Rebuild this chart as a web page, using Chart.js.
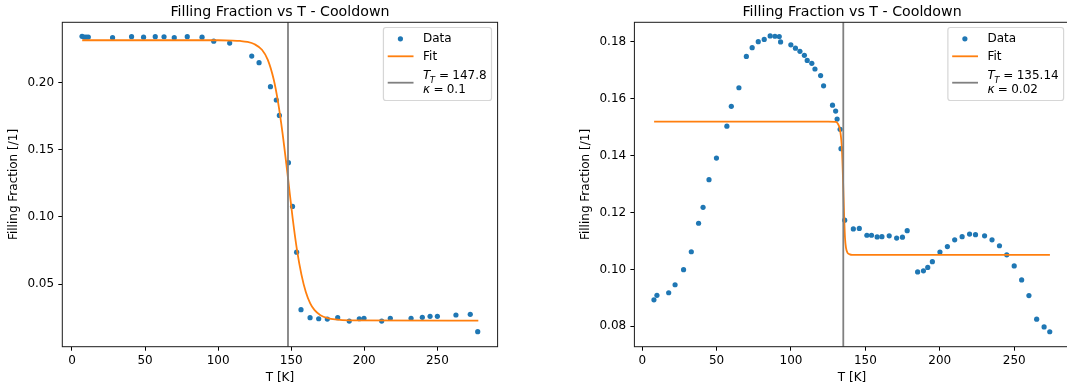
<!DOCTYPE html>
<html>
<head>
<meta charset="utf-8">
<script src="https://cdn.jsdelivr.net/npm/chart.js@4.4.0/dist/chart.umd.min.js"></script>
<style>
  html, body { margin:0; padding:0; background:#fff; overflow:hidden; width:1067px; height:392px; }
  .box { position:absolute; top:0; height:392px; width:540px; }
  #b1 { left:0; }
  #b2 { left:540px; }
  canvas { display:block; }
</style>
</head>
<body>
<div class="box" id="b1"><canvas id="c1" width="540" height="392"></canvas></div>
<div class="box" id="b2"><canvas id="c2" width="540" height="392"></canvas></div>
<script>
const FONT = 'DejaVu Sans';
const titleText = 'Filling Fraction vs T - Cooldown';
const xLabel = 'T [K]';
const yLabel = 'Filling Fraction [/1]';
const dataLabel = 'Data';
const fitLabel = 'Fit';

// ---- Left panel ----
const leftT = [6.9, 8.4, 9.8, 11.2, 27.8, 40.8, 49.0, 57.0, 63.0, 70.0, 78.9, 89.0, 97.0, 107.9, 123.0, 128.0, 135.8, 139.8, 141.9, 148.1, 150.9, 153.7, 156.7, 162.9, 168.8, 174.7, 181.8, 189.7, 196.6, 199.8, 211.9, 217.8, 232.0, 239.7, 245.0, 250.0, 262.7, 272.5, 277.6];
const leftFF = [0.2345, 0.2340, 0.2340, 0.2340, 0.2335, 0.2343, 0.2339, 0.2343, 0.2342, 0.2335, 0.2343, 0.2339, 0.2309, 0.2295, 0.2198, 0.2149, 0.1970, 0.1871, 0.1756, 0.1404, 0.1078, 0.0737, 0.0309, 0.0249, 0.0241, 0.0239, 0.0249, 0.0224, 0.0241, 0.0244, 0.0224, 0.0244, 0.0244, 0.0252, 0.0259, 0.0259, 0.0269, 0.0274, 0.0145];
const leftFitT = [7, 100, 110, 115, 120, 125, 130, 134, 138, 141, 144, 147.8, 151, 154, 157, 160, 163, 166, 170, 175, 180, 190, 278];
const leftFitFF = [0.2316, 0.2316, 0.2314, 0.2311, 0.2304, 0.2286, 0.2245, 0.2170, 0.2025, 0.1855, 0.1630, 0.1290, 0.0990, 0.0750, 0.0570, 0.0440, 0.0356, 0.0305, 0.0268, 0.0246, 0.0236, 0.0229, 0.0227];
const leftTt = 147.8;
const leftTtText = '147.8';
const leftKappaText = '0.1';
const leftXTicks = [0, 50, 100, 150, 200, 250];
const leftYTicks = [0.05, 0.10, 0.15, 0.20];
const leftXRange = [-6.6, 291.2];
const leftYRange = [0.00329, 0.24498];

// ---- Right panel ----
const rightT = [7.9, 9.9, 17.8, 22.1, 27.8, 33.0, 37.9, 40.9, 44.9, 49.9, 56.9, 59.9, 65.0, 70.0, 73.9, 78.0, 82.0, 86.0, 89.2, 92.1, 93.0, 99.9, 103.0, 106.0, 109.0, 110.9, 114.0, 116.1, 119.9, 121.9, 127.9, 130.0, 131.0, 133.0, 133.6, 136.1, 141.9, 145.9, 151.0, 154.1, 157.9, 161.1, 166.0, 171.0, 174.9, 178.1, 185.1, 189.0, 191.9, 195.0, 200.1, 205.1, 210.0, 215.0, 220.0, 224.0, 230.1, 235.1, 240.1, 245.0, 250.0, 255.0, 259.9, 265.1, 270.1, 273.9];
const rightFF = [0.0893, 0.0909, 0.0918, 0.0946, 0.0999, 0.1062, 0.1162, 0.1218, 0.1315, 0.1391, 0.1503, 0.1573, 0.1638, 0.1748, 0.1779, 0.1800, 0.1808, 0.1820, 0.1819, 0.1818, 0.1799, 0.1789, 0.1777, 0.1766, 0.1752, 0.1734, 0.1724, 0.1704, 0.1681, 0.1645, 0.1577, 0.1556, 0.1528, 0.1492, 0.1424, 0.1173, 0.1142, 0.1144, 0.1120, 0.1120, 0.1114, 0.1115, 0.1118, 0.1110, 0.1113, 0.1136, 0.0991, 0.0995, 0.1007, 0.1027, 0.1061, 0.1080, 0.1104, 0.1115, 0.1124, 0.1122, 0.1118, 0.1104, 0.1083, 0.1051, 0.1012, 0.0963, 0.0908, 0.0825, 0.0798, 0.0781];
const rightFitT = [8, 125, 130, 131.5, 132.5, 133.3, 134.1, 134.7, 135.14, 135.7, 136.3, 137, 138, 139.5, 141, 274];
const rightFitFF = [0.1519, 0.1519, 0.1518, 0.1512, 0.1500, 0.1478, 0.1435, 0.1360, 0.1285, 0.1190, 0.1110, 0.1075, 0.1058, 0.1053, 0.1051, 0.1051];
const rightTt = 135.14;
const rightTtText = '135.14';
const rightKappaText = '0.02';
const rightXTicks = [0, 50, 100, 150, 200, 250];
const rightYTicks = [0.08, 0.10, 0.12, 0.14, 0.16, 0.18];
const rightXRange = [-5.24, 287.3];
const rightYRange = [0.07284, 0.1868];

function roundRectPath(ctx, x, y, w, h, r) {
  ctx.beginPath();
  ctx.moveTo(x + r, y);
  ctx.lineTo(x + w - r, y);
  ctx.arcTo(x + w, y, x + w, y + r, r);
  ctx.lineTo(x + w, y + h - r);
  ctx.arcTo(x + w, y + h, x + w - r, y + h, r);
  ctx.lineTo(x + r, y + h);
  ctx.arcTo(x, y + h, x, y + h - r, r);
  ctx.lineTo(x, y + r);
  ctx.arcTo(x, y, x + r, y, r);
  ctx.closePath();
}

function decor(cfg) {
  return {
    id: 'decor',
    afterDatasetsDraw(chart) {
      const ctx = chart.ctx;
      const a = chart.chartArea;
      ctx.save();
      // frame (spines)
      ctx.strokeStyle = '#1a1a1a';
      ctx.lineWidth = 1;
      ctx.strokeRect(a.left, a.top, a.right - a.left, a.bottom - a.top);

      // legend
      const fs = 12, subFs = 8.6;
      const fReg = fs + 'px "' + FONT + '"';
      const fIt = 'italic ' + fs + 'px "' + FONT + '"';
      const fSub = 'italic ' + subFs + 'px "' + FONT + '"';
      const gap = 3.3;
      ctx.font = fIt; const wT = ctx.measureText('T').width;
      ctx.font = fSub; const wTs = ctx.measureText('T').width;
      ctx.font = fReg;
      const wEq = ctx.measureText('=').width;
      const wNum1 = ctx.measureText(cfg.ttText).width;
      const wNum2 = ctx.measureText(cfg.kText).width;
      ctx.font = fIt; const wK = ctx.measureText('\u03BA').width;
      ctx.font = fReg;
      const w1 = wT + wTs + gap + wEq + gap + wNum1;
      const w2 = wK + gap + wEq + gap + wNum2;
      const textW = Math.max(w1, w2, ctx.measureText(dataLabel).width, ctx.measureText(fitLabel).width);
      const boxRight = a.right - 6.1;
      const textX = boxRight - 4.9 - textW;
      const boxLeft = textX - 39.6;
      const boxTop = 27.5, boxBottom = 100.5;
      roundRectPath(ctx, boxLeft, boxTop, boxRight - boxLeft, boxBottom - boxTop, 2.5);
      ctx.fillStyle = 'rgba(255,255,255,0.8)';
      ctx.fill();
      ctx.strokeStyle = 'rgba(204,204,204,0.8)';
      ctx.lineWidth = 1.2;
      ctx.stroke();

      // Data entry
      ctx.fillStyle = '#1f77b4';
      ctx.beginPath();
      ctx.arc(textX - 22.6, 38.8, 2.6, 0, Math.PI * 2);
      ctx.fill();
      ctx.fillStyle = '#000';
      ctx.textAlign = 'left';
      ctx.textBaseline = 'alphabetic';
      ctx.font = fReg;
      ctx.fillText(dataLabel, textX, 42);

      // Fit entry
      ctx.strokeStyle = '#ff7f0e';
      ctx.lineWidth = 1.8;
      ctx.beginPath();
      ctx.moveTo(textX - 35.3, 56.3);
      ctx.lineTo(textX - 9.5, 56.3);
      ctx.stroke();
      ctx.fillText(fitLabel, textX, 60);

      // Transition entry
      ctx.strokeStyle = '#808080';
      ctx.beginPath();
      ctx.moveTo(textX - 35.3, 82.7);
      ctx.lineTo(textX - 9.5, 82.7);
      ctx.stroke();
      let x = textX;
      ctx.font = fIt; ctx.fillText('T', x, 79.3); x += wT;
      ctx.font = fSub; ctx.fillText('T', x - 0.6, 82.6); x += wTs + gap;
      ctx.font = fReg; ctx.fillText('=', x, 79.3); x += wEq + gap;
      ctx.fillText(cfg.ttText, x, 79.3);
      x = textX;
      ctx.font = fIt; ctx.fillText('\u03BA', x, 93.3); x += wK + gap;
      ctx.font = fReg; ctx.fillText('=', x, 93.3); x += wEq + gap;
      ctx.fillText(cfg.kText, x, 93.3);
      ctx.restore();
    },
    afterDraw(chart) {
      const ctx = chart.ctx;
      const a = chart.chartArea;
      ctx.save();
      ctx.fillStyle = '#000';
      ctx.font = '14.2px "' + FONT + '"';
      ctx.textAlign = 'center';
      ctx.textBaseline = 'alphabetic';
      ctx.fillText(titleText, (a.left + a.right) / 2, 16);
      ctx.restore();
    }
  };
}

function buildChart(id, cfg) {
  const pts = cfg.T.map((t, i) => ({ x: t, y: cfg.FF[i] }));
  const fit = cfg.fitT.map((t, i) => ({ x: t, y: cfg.fitFF[i] }));
  const vline = [{ x: cfg.Tt, y: cfg.yRange[0] }, { x: cfg.Tt, y: cfg.yRange[1] }];
  const tickFont = { family: FONT, size: 12 };
  new Chart(document.getElementById(id), {
    type: 'scatter',
    data: {
      datasets: [
        { label: dataLabel, data: pts, backgroundColor: '#1f77b4', borderWidth: 0, pointRadius: 2.6, pointHoverRadius: 2.6, order: 3 },
        { type: 'line', label: fitLabel, data: fit, borderColor: '#ff7f0e', borderWidth: 1.8, pointRadius: 0, fill: false, cubicInterpolationMode: 'monotone', order: 2 },
        { type: 'line', label: 'T_T', data: vline, borderColor: '#808080', borderWidth: 1.8, pointRadius: 0, fill: false, order: 1 }
      ]
    },
    options: {
      responsive: false,
      animation: false,
      events: [],
      layout: { padding: { left: cfg.padLeft, right: cfg.padRight, top: 22.3, bottom: 5.3 } },
      plugins: { legend: { display: false }, tooltip: { enabled: false }, title: { display: false } },
      scales: {
        x: {
          type: 'linear', position: 'bottom',
          min: cfg.xRange[0], max: cfg.xRange[1],
          afterBuildTicks: s => { s.ticks = cfg.xTicks.map(v => ({ value: v })); },
          afterFit: s => { s.height = 40; },
          grid: { display: true, drawOnChartArea: false, drawTicks: true, tickLength: 4, color: '#000', lineWidth: 1 },
          border: { display: false },
          ticks: { font: tickFont, color: '#000', padding: 2.5, maxRotation: 0, autoSkip: false, callback: v => String(v) },
          title: { display: true, text: xLabel, font: tickFont, color: '#000', padding: { top: 0, bottom: 1.7 } }
        },
        y: {
          type: 'linear', position: 'left',
          min: cfg.yRange[0], max: cfg.yRange[1],
          afterBuildTicks: s => { s.ticks = cfg.yTicks.map(v => ({ value: v })); },
          afterFit: s => { s.width = 62.3; },
          grid: { display: true, drawOnChartArea: false, drawTicks: true, tickLength: 4, color: '#000', lineWidth: 1 },
          border: { display: false },
          ticks: { font: tickFont, color: '#000', padding: 4.2, autoSkip: false, callback: v => Number(v).toFixed(2) },
          title: { display: true, text: yLabel, font: tickFont, color: '#000', padding: { top: 7, bottom: 0 } }
        }
      }
    },
    plugins: [decor(cfg)]
  });
}

buildChart('c1', {
  T: leftT, FF: leftFF, fitT: leftFitT, fitFF: leftFitFF, Tt: leftTt,
  ttText: leftTtText, kText: leftKappaText,
  xTicks: leftXTicks, yTicks: leftYTicks, xRange: leftXRange, yRange: leftYRange,
  padLeft: 0, padRight: 42.4
});
buildChart('c2', {
  T: rightT, FF: rightFF, fitT: rightFitT, fitFF: rightFitFF, Tt: rightTt,
  ttText: rightTtText, kText: rightKappaText,
  xTicks: rightXTicks, yTicks: rightYTicks, xRange: rightXRange, yRange: rightYRange,
  padLeft: 32.1, padRight: 10.3
});
</script>
</body>
</html>
